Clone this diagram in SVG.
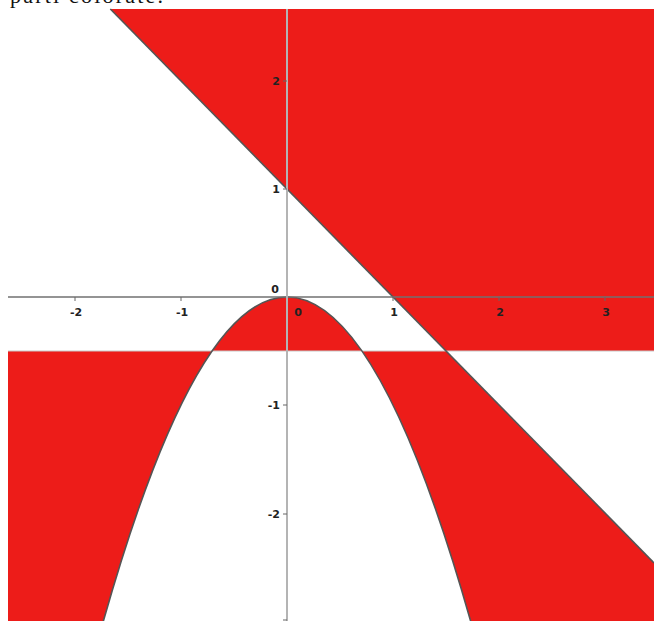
<svg xmlns="http://www.w3.org/2000/svg" width="654" height="621" viewBox="0 0 654 621">
<style>
.r{fill:#ed1c19;stroke:none}
.edge{fill:none;stroke:#555;stroke-width:1.6}
.lab{font-family:"DejaVu Sans",sans-serif;font-size:11px;font-weight:bold;fill:#222}
.tick{stroke:#666;stroke-width:1}
</style>
<rect width="654" height="621" fill="#fff"/>
<text x="10" y="3" font-family="Liberation Serif,serif" font-size="22" textLength="153" fill="#111">parti colorate.</text>
<g id="plot">
<rect x="8" y="9" width="646" height="612" fill="#fff"/>
<g id="regions">
<path class="r" d="M110.33,9 L654,9 L654,351 L446,351 Z"/>
<path class="r" d="M212.05,351 Q287,243 361.95,351 Z"/>
<path class="r" d="M8,351 L212.05,351 Q156.78,430.64 101.5,627.75 L8,627.75 Z"/>
<path class="r" d="M361.95,351 L446,351 L654,562.9 L654,627.75 L472.5,627.75 Q417.23,430.64 361.95,351 Z"/>
</g>
<g id="boundaries">
<line x1="8" y1="351" x2="654" y2="351" stroke="#c8c8c8" stroke-width="1"/>
<path class="edge" d="M101.5,627.75 Q287,-33.75 472.5,627.75"/>
<line class="edge" x1="110.33" y1="9" x2="654" y2="562.9"/>
</g>
<g id="axes">
<line x1="8" y1="297" x2="654" y2="297" stroke="#707070" stroke-width="1.5"/>
<line x1="287" y1="9" x2="287" y2="621" stroke="#b4b4b4" stroke-width="2"/>
<line class="tick" x1="75" y1="297" x2="75" y2="301"/>
<line class="tick" x1="181" y1="297" x2="181" y2="301"/>
<line class="tick" x1="393" y1="297" x2="393" y2="301"/>
<line class="tick" x1="499" y1="297" x2="499" y2="301"/>
<line class="tick" x1="605" y1="297" x2="605" y2="301"/>
<line class="tick" x1="283" y1="81" x2="287" y2="81"/>
<line class="tick" x1="283" y1="189" x2="287" y2="189"/>
<line class="tick" x1="283" y1="405" x2="287" y2="405"/>
<line class="tick" x1="283" y1="514" x2="287" y2="514"/>
<line class="tick" x1="283" y1="620" x2="287" y2="620"/>
<text class="lab" x="76" y="316" text-anchor="middle">-2</text>
<text class="lab" x="182" y="316" text-anchor="middle">-1</text>
<text class="lab" x="275" y="293" text-anchor="middle">0</text>
<text class="lab" x="298" y="316" text-anchor="middle">0</text>
<text class="lab" x="394" y="316" text-anchor="middle">1</text>
<text class="lab" x="500" y="316" text-anchor="middle">2</text>
<text class="lab" x="606" y="316" text-anchor="middle">3</text>
<text class="lab" x="280" y="85" text-anchor="end">2</text>
<text class="lab" x="280" y="193" text-anchor="end">1</text>
<text class="lab" x="280" y="409" text-anchor="end">-1</text>
<text class="lab" x="280" y="518" text-anchor="end">-2</text>
</g>
</g>
</svg>
